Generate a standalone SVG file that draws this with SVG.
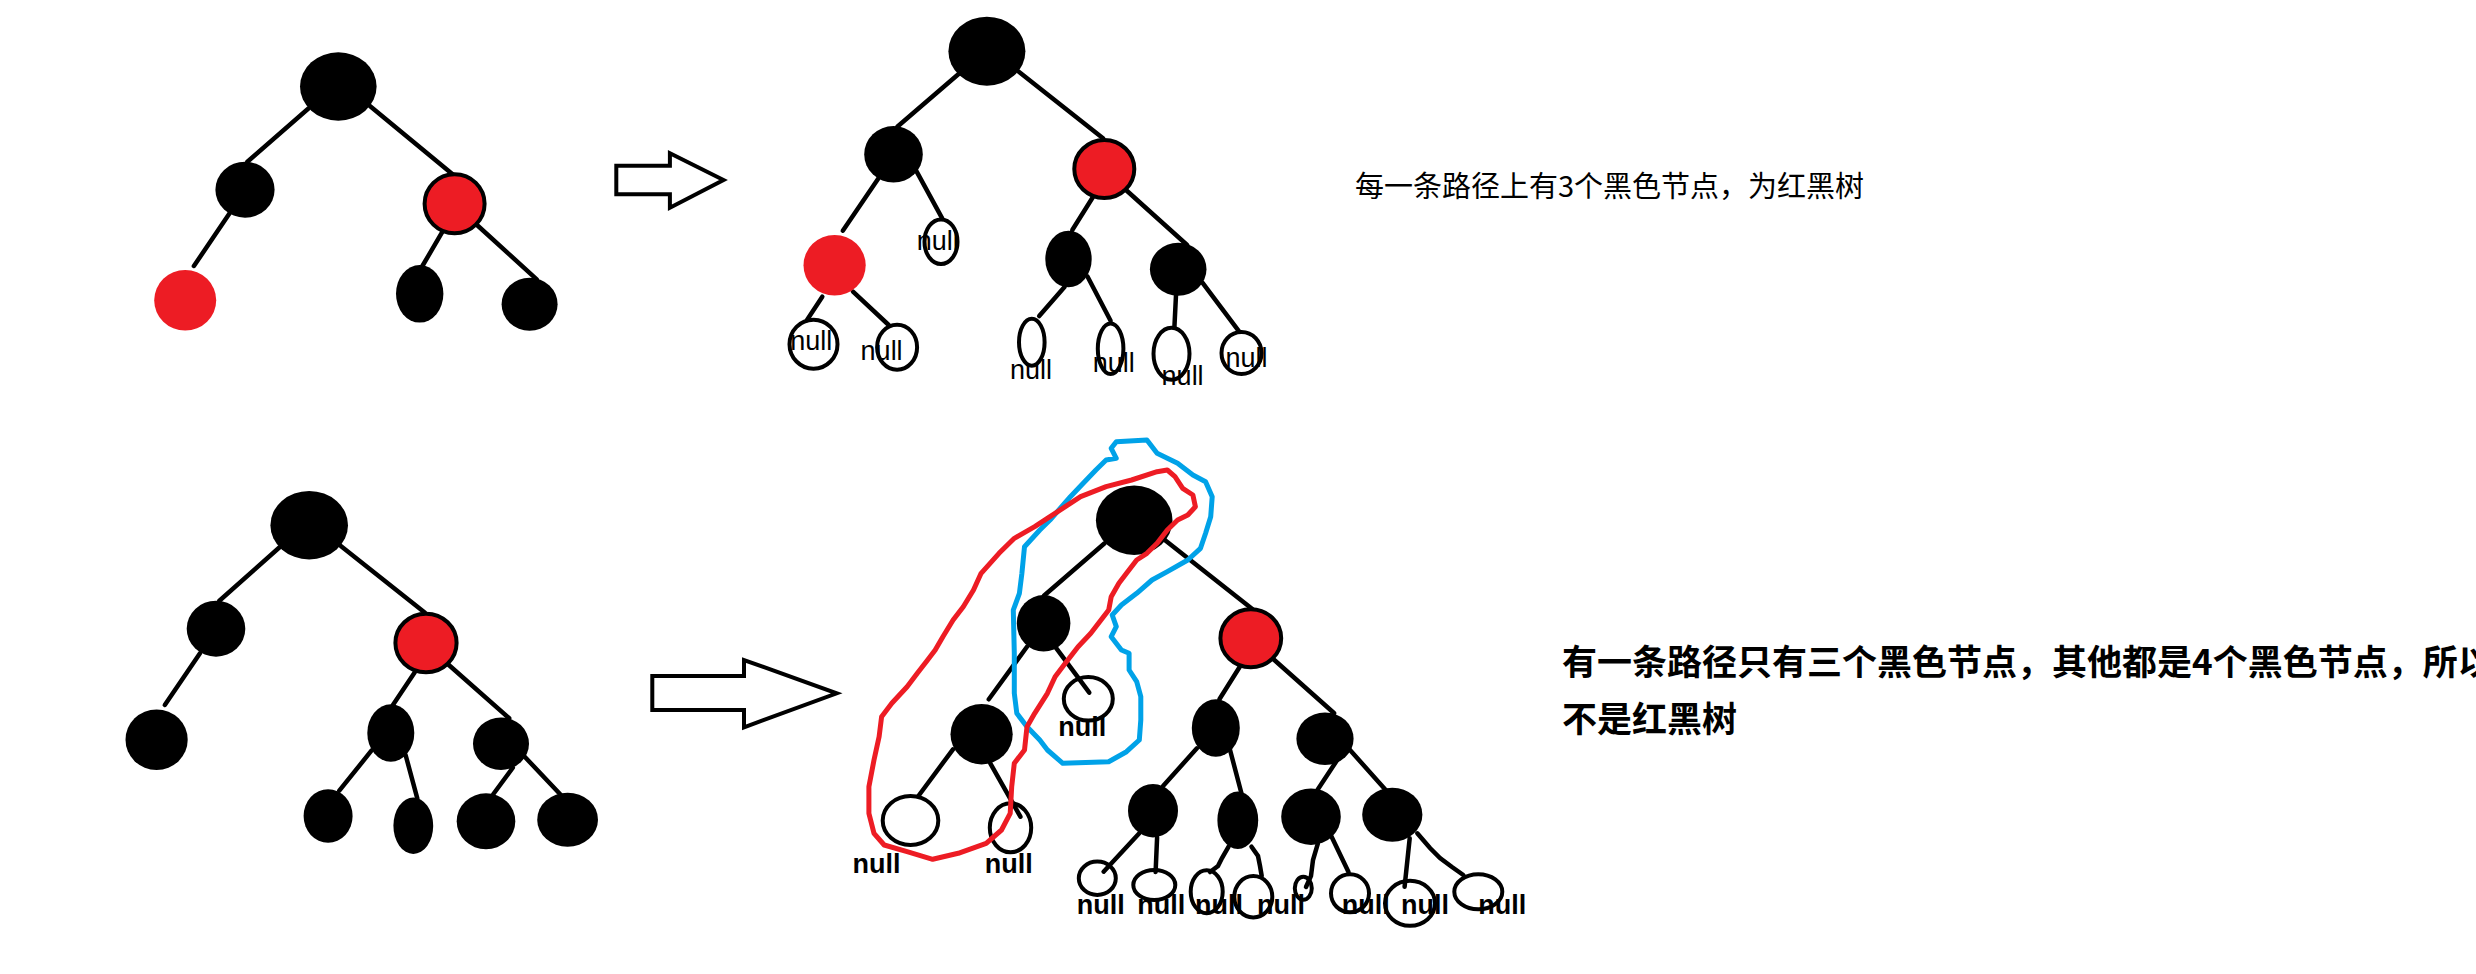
<svg xmlns="http://www.w3.org/2000/svg" width="2476" height="974" viewBox="0 0 2476 974">
<style>
.e{stroke:#000;stroke-width:4.5;stroke-linecap:round;fill:none}
.b{fill:#000}
.r{fill:#ed1c24}
.ro{fill:#ed1c24;stroke:#000;stroke-width:4}
.n{fill:none;stroke:#000;stroke-width:4}
.arw{fill:#fff;stroke:#000;stroke-width:4;stroke-linejoin:miter}
.t{font-family:"Liberation Sans",Arial,sans-serif;font-size:27px;fill:#000}
.tb{font-family:"Liberation Sans",Arial,sans-serif;font-size:27px;font-weight:bold;fill:#000}
.cn{font-family:"Noto Sans CJK SC","Noto Sans",sans-serif;fill:#000}
.loop{fill:none;stroke-width:5;stroke-linejoin:round;stroke-linecap:round}
</style>
<rect width="2476" height="974" fill="#fff"/>

<g id="connectors">
  <!-- tree 1 -->
  <line class="e" x1="308.7" y1="108.3" x2="247.4" y2="161.7"/>
  <line class="e" x1="369.9" y1="106" x2="455.6" y2="176.7"/>
  <line class="e" x1="229.6" y1="213.3" x2="193.9" y2="266"/>
  <line class="e" x1="445.4" y1="226.7" x2="422.4" y2="266"/>
  <line class="e" x1="477" y1="225" x2="536.7" y2="279.3"/>
  <!-- tree 2 -->
  <line class="e" x1="958.6" y1="74" x2="897.3" y2="126.7"/>
  <line class="e" x1="1018.8" y1="71.7" x2="1103" y2="138.3"/>
  <line class="e" x1="878.5" y1="178.3" x2="842.8" y2="230.7"/>
  <line class="e" x1="916.7" y1="171.7" x2="942.2" y2="218.3"/>
  <line class="e" x1="822.3" y1="296.7" x2="807" y2="320"/>
  <line class="e" x1="853" y1="291.7" x2="888.7" y2="325"/>
  <line class="e" x1="1092.8" y1="197.3" x2="1072.3" y2="230"/>
  <line class="e" x1="1126" y1="190" x2="1187.1" y2="245"/>
  <line class="e" x1="1064.7" y1="286.7" x2="1039.2" y2="316"/>
  <line class="e" x1="1087.6" y1="276.7" x2="1110.6" y2="320.7"/>
  <line class="e" x1="1176" y1="295" x2="1174.4" y2="327.3"/>
  <line class="e" x1="1202.4" y1="282.7" x2="1239.2" y2="331.7"/>
  <!-- tree 3 -->
  <line class="e" x1="279.6" y1="547.3" x2="219.4" y2="600.7"/>
  <line class="e" x1="340.8" y1="546" x2="425" y2="612.7"/>
  <line class="e" x1="200" y1="653.3" x2="164.8" y2="705"/>
  <line class="e" x1="414.8" y1="672.3" x2="392.9" y2="705"/>
  <line class="e" x1="448" y1="664.3" x2="509.2" y2="718.3"/>
  <line class="e" x1="371.4" y1="750.7" x2="339.3" y2="790.7"/>
  <line class="e" x1="405.6" y1="755" x2="417.3" y2="798.3"/>
  <line class="e" x1="512.8" y1="767.7" x2="493.4" y2="794"/>
  <line class="e" x1="524" y1="756" x2="560.2" y2="794.3"/>
  <!-- tree 4 -->
  <line class="e" x1="1104.6" y1="543.3" x2="1043.9" y2="595.7"/>
  <line class="e" x1="1164.8" y1="540" x2="1252.6" y2="609.3"/>
  <line class="e" x1="1027" y1="646.7" x2="988.8" y2="699.3"/>
  <line class="e" x1="1055.1" y1="646.7" x2="1089.3" y2="692.7"/>
  <line class="e" x1="953" y1="749.3" x2="918.4" y2="796"/>
  <line class="e" x1="990.3" y1="763.3" x2="1020.4" y2="816.7"/>
  <line class="e" x1="1239.8" y1="666.7" x2="1219.4" y2="699.3"/>
  <line class="e" x1="1273.5" y1="659.3" x2="1334.2" y2="713.3"/>
  <line class="e" x1="1196.9" y1="748.3" x2="1163.3" y2="785.7"/>
  <line class="e" x1="1229.6" y1="748.3" x2="1241.3" y2="792.7"/>
  <line class="e" x1="1337.2" y1="760" x2="1317.9" y2="789.3"/>
  <line class="e" x1="1350" y1="750" x2="1385.7" y2="790"/>
  <line class="e" x1="1139.3" y1="833.3" x2="1103.6" y2="871.7"/>
  <line class="e" x1="1157.1" y1="837.3" x2="1155.6" y2="872"/>
  <polyline class="e" points="1228.6,846.7 1222,858 1218,866 1210,872"/>
  <polyline class="e" points="1251.5,846.7 1258,856 1260,866 1261.7,876"/>
  <polyline class="e" points="1317.9,843.3 1313,860 1311,876 1306,887"/>
  <line class="e" x1="1331.6" y1="836.7" x2="1348.5" y2="872"/>
  <line class="e" x1="1409.7" y1="838.3" x2="1404.6" y2="886.7"/>
  <polyline class="e" points="1417.3,833.3 1430,848 1440,858 1452,867 1463.3,875"/>
</g>

<g id="arrow1"><polygon class="arw" points="616.3,165.7 669.9,165.7 669.9,153.3 723.5,180 669.9,207.7 669.9,194.3 616.3,194.3"/></g>
<g id="arrow2"><polygon class="arw" points="652.3,676 744,676 744,660 836.7,693.3 744,727.3 744,710 652.3,710"/></g>

<!-- tree 1 -->
<g id="t1-root"><ellipse class="b" cx="338.3" cy="86.5" rx="38.3" ry="34.2"/></g>
<g id="t1-l"><ellipse class="b" cx="245" cy="189.7" rx="29.6" ry="28"/></g>
<g id="t1-r"><ellipse class="ro" cx="454.6" cy="203.8" rx="30" ry="29.5"/></g>
<g id="t1-ll"><ellipse class="r" cx="185.2" cy="300.3" rx="31" ry="30.3"/></g>
<g id="t1-rl"><ellipse class="b" cx="419.7" cy="293.8" rx="23.7" ry="28.8"/></g>
<g id="t1-rr"><ellipse class="b" cx="529.6" cy="304.2" rx="28" ry="26.5"/></g>

<!-- tree 2 -->
<g id="t2-root"><ellipse class="b" cx="986.9" cy="51.2" rx="38.5" ry="34.5"/></g>
<g id="t2-l"><ellipse class="b" cx="893.5" cy="154.3" rx="29.3" ry="28.3"/></g>
<g id="t2-r"><ellipse class="ro" cx="1104.3" cy="169" rx="30" ry="29"/></g>
<g id="t2-ll"><ellipse class="r" cx="834.6" cy="265.3" rx="31.1" ry="30.3"/></g>
<g id="t2-lr"><ellipse class="n" cx="941" cy="241.7" rx="16.5" ry="22.3"/><text class="t" x="916.7" y="250">null</text></g>
<g id="t2-rl"><ellipse class="b" cx="1068.5" cy="259" rx="23.2" ry="28.3"/></g>
<g id="t2-rr"><ellipse class="b" cx="1178.2" cy="269.2" rx="28.3" ry="26.5"/></g>
<g id="t2-lll"><ellipse class="n" cx="813.5" cy="344.2" rx="24" ry="24.5"/><text class="t" x="790.2" y="350">null</text></g>
<g id="t2-llr"><ellipse class="n" cx="897.1" cy="347.2" rx="20" ry="22.5"/><text class="t" x="860.6" y="360">null</text></g>
<g id="t2-rll"><ellipse class="n" cx="1031.8" cy="342.2" rx="12.8" ry="23.5"/><text class="t" x="1010" y="379">null</text></g>
<g id="t2-rlr"><ellipse class="n" cx="1110.6" cy="348.7" rx="12.8" ry="25.3"/><text class="t" x="1092.8" y="372">null</text></g>
<g id="t2-rrl"><ellipse class="n" cx="1171.5" cy="353.8" rx="18" ry="26"/><text class="t" x="1161.6" y="385">null</text></g>
<g id="t2-rrr"><ellipse class="n" cx="1241.5" cy="353" rx="20" ry="21"/><text class="t" x="1225.4" y="366.7">null</text></g>

<!-- tree 3 -->
<g id="t3-root"><ellipse class="b" cx="309.2" cy="525.2" rx="38.8" ry="34.2"/></g>
<g id="t3-l"><ellipse class="b" cx="216" cy="628.7" rx="29.3" ry="28"/></g>
<g id="t3-r"><ellipse class="ro" cx="426" cy="643" rx="30.6" ry="29.3"/></g>
<g id="t3-ll"><ellipse class="b" cx="156.6" cy="739.7" rx="31.1" ry="30.3"/></g>
<g id="t3-rl"><ellipse class="b" cx="390.8" cy="733" rx="23.5" ry="28.7"/></g>
<g id="t3-rr"><ellipse class="b" cx="501" cy="743.7" rx="28" ry="26.3"/></g>
<g id="t3-rll"><ellipse class="b" cx="328.1" cy="816" rx="24.5" ry="26.7"/></g>
<g id="t3-rlr"><ellipse class="b" cx="413.3" cy="825.8" rx="19.9" ry="28.2"/></g>
<g id="t3-rrl"><ellipse class="b" cx="486" cy="821.3" rx="29.3" ry="28"/></g>
<g id="t3-rrr"><ellipse class="b" cx="567.6" cy="819.7" rx="30.4" ry="27"/></g>

<!-- tree 4 -->
<g id="t4-root"><ellipse class="b" cx="1134.2" cy="520.3" rx="38.3" ry="34.7"/></g>
<g id="t4-l"><ellipse class="b" cx="1043.6" cy="623.3" rx="26.8" ry="28.3"/></g>
<g id="t4-r"><ellipse class="ro" cx="1250.8" cy="638.3" rx="30.4" ry="29"/></g>
<g id="t4-ll"><ellipse class="b" cx="981.6" cy="734.2" rx="31.1" ry="30.2"/></g>
<g id="t4-lr"><ellipse class="n" cx="1088.3" cy="698.8" rx="24.5" ry="21.8"/><text class="tb" x="1058.3" y="736">null</text></g>
<g id="t4-lll"><ellipse class="n" cx="910.5" cy="820.5" rx="27.8" ry="24.5"/><text class="tb" x="852.6" y="872.7">null</text></g>
<g id="t4-llr"><ellipse class="n" cx="1010.5" cy="827.8" rx="20.7" ry="24.5"/><text class="tb" x="984.7" y="872.7">null</text></g>
<g id="t4-rl"><ellipse class="b" cx="1215.8" cy="728" rx="24" ry="28.7"/></g>
<g id="t4-rr"><ellipse class="b" cx="1325" cy="738.7" rx="28.6" ry="26.3"/></g>
<g id="t4-rll"><ellipse class="b" cx="1153" cy="810.7" rx="25" ry="26.7"/></g>
<g id="t4-rlr"><ellipse class="b" cx="1237.8" cy="820.3" rx="20.4" ry="28.7"/></g>
<g id="t4-rrl"><ellipse class="b" cx="1311" cy="816.7" rx="29.8" ry="28.3"/></g>
<g id="t4-rrr"><ellipse class="b" cx="1392.3" cy="814.7" rx="30.1" ry="27"/></g>
<g id="t4-null1"><ellipse class="n" cx="1097.3" cy="878.3" rx="18.5" ry="16.7"/></g>
<g id="t4-null2"><ellipse class="n" cx="1154.3" cy="885" rx="21" ry="15"/></g>
<g id="t4-null3"><ellipse class="n" cx="1206.7" cy="891.7" rx="16" ry="21.5"/></g>
<g id="t4-null4"><ellipse class="n" cx="1253.3" cy="896.7" rx="19" ry="20.7"/></g>
<g id="t4-null5"><ellipse class="n" cx="1303.3" cy="888.3" rx="8.5" ry="11.5"/></g>
<g id="t4-null6"><ellipse class="n" cx="1350" cy="893.3" rx="19" ry="19"/></g>
<g id="t4-null7"><ellipse class="n" cx="1410" cy="903.3" rx="25" ry="22.5"/></g>
<g id="t4-null8"><ellipse class="n" cx="1478.3" cy="891.7" rx="24" ry="17.5"/></g>
<g id="t4-nulltexts">
  <text class="tb" x="1076.7" y="913.5">null</text>
  <text class="tb" x="1137.3" y="913.5">null</text>
  <text class="tb" x="1195" y="913.5">null</text>
  <text class="tb" x="1257" y="913.5">null</text>
  <text class="tb" x="1341.7" y="913.5">null</text>
  <text class="tb" x="1401" y="913.5">null</text>
  <text class="tb" x="1478.3" y="913.5">null</text>
</g>

<g id="annotations">
  <polygon class="loop" stroke="#00a2e8" points="1116.3,441.7 1146.9,440 1157.1,453.3 1177.6,463.3 1192.9,475 1205.6,481.7 1212.2,496.7 1210.7,516.7 1205.6,533.3 1200.5,548.3 1187.8,560 1167.3,571.7 1152,580 1136.7,593.3 1121.4,605 1112.2,615 1116.3,626.7 1111.2,636.7 1121.4,650 1129.1,653.3 1129.1,670 1136.7,681.7 1140.8,696.7 1140.8,720 1139.3,740 1126.5,751.7 1108.7,761.7 1062.8,763.3 1047.4,750 1039.8,740 1027,726.7 1016.8,713.3 1014.3,693.3 1014.3,653.3 1013.3,610 1019.4,593.3 1021.9,573.3 1024.5,546.7 1039.8,530 1050,520 1070.4,496.7 1083.2,483.3 1095.9,470 1106.1,460 1116.3,458.3 1111.2,448.3"/>
  <polygon class="loop" stroke="#ed1c24" points="1167.3,470 1175,476.7 1182.7,488.3 1192.9,495 1195.4,506.7 1187.8,515 1177.6,520 1167.3,530 1157.1,543.3 1146.9,553.3 1136.7,560 1126.5,573.3 1118.9,583.3 1111.2,596.7 1108.7,610 1101,620 1090.8,633.3 1078.1,646.7 1065.3,663.3 1055.1,676.7 1047.4,693.3 1034.7,713.3 1027,726.7 1024.5,750 1014.3,763.3 1011.7,786.7 1010.2,813.3 1001.5,830 986.2,843.3 958.2,853.3 932.7,859.3 907.1,851.7 884.2,845 874,833.3 868.9,813.3 868.9,786.7 874,760 879.1,736.7 881.6,716.7 891.8,703.3 907.1,686.7 917.3,673.3 927.6,660 935.2,650 942.9,636.7 953.1,620 963.3,606.7 973.5,590 981.1,573.3 999,553.3 1014.3,538.3 1034.7,526.7 1050,516.7 1065.3,506.7 1080.6,496.7 1106.1,486.7 1131.6,480 1157.1,471.7"/>
</g>

<g id="caption1"><text class="cn" x="1355" y="197" font-size="29">每一条路径上有3个黑色节点，为红黑树</text></g>
<g id="caption2">
  <text class="cn" x="1562" y="675" font-size="35" font-weight="bold">有一条路径只有三个黑色节点，其他都是4个黑色节点，所以</text>
  <text class="cn" x="1562" y="732" font-size="35" font-weight="bold">不是红黑树</text>
</g>
</svg>
